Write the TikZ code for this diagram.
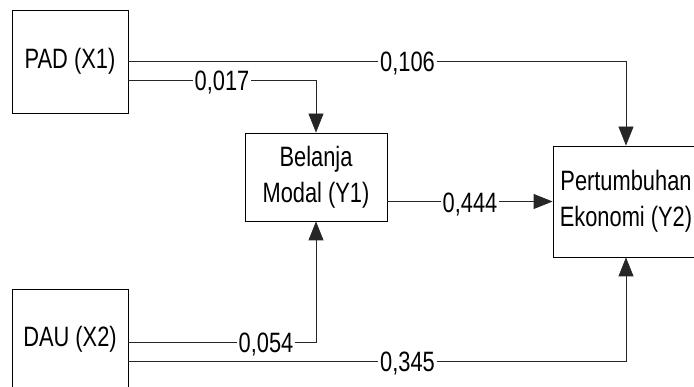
\documentclass[tikz,border=0pt]{standalone}
\usepackage{fontspec}
\setmainfont[FakeStretch=0.78]{Liberation Sans}
\usetikzlibrary{arrows.meta}
\begin{document}
\begin{tikzpicture}[x=1pt,y=-1pt,
  box/.style={draw=black,line width=0.8pt,inner sep=0pt,font=\fontsize{28}{36}\selectfont,align=center},
  conn/.style={draw=black!85,line width=0.8pt},
  arr/.style={conn,-{Triangle[length=19pt,width=15pt]}},
  lab/.style={fill=white,inner xsep=2pt,inner ysep=1pt,anchor=base,font=\fontsize{28}{36}\selectfont}]
\useasboundingbox (0,0) rectangle (694,387);
\clip (0,0) rectangle (694,387);
\node[box,minimum width=116pt,minimum height=103pt] (PAD) at (70,61.5) {PAD (X1)};
\node[box,minimum width=116pt,minimum height=101pt] (DAU) at (70,339.5) {DAU (X2)};
\node[box,minimum width=142pt,minimum height=88pt] (BEL) at (316,177) {Belanja\\Modal (Y1)};
\node[box,minimum width=146pt,minimum height=111pt] (PER) at (626,201.5) {Pertumbuhan\\Ekonomi (Y2)};
\draw[arr] (PAD.east) -| (PER.north);
\draw[arr] ([yshift=-18.5pt]PAD.east) -| (BEL.north);
\draw[arr] ([yshift=-2.5pt]DAU.east) -| (BEL.south);
\draw[arr] ([yshift=-21.5pt]DAU.east) -| (PER.south);
\draw[arr] (BEL.east |- PER.west) -- (PER.west);
\node[lab] (L1) at (407.5,71.5) {0,106};
\node[lab] (L2) at (222,90.5) {0,017};
\node[lab] (L3) at (470,212.5) {0,444};
\node[lab] (L4) at (266,352.5) {0,054};
\node[lab] (L5) at (407.5,371.5) {0,345};
\end{tikzpicture}
\end{document}
